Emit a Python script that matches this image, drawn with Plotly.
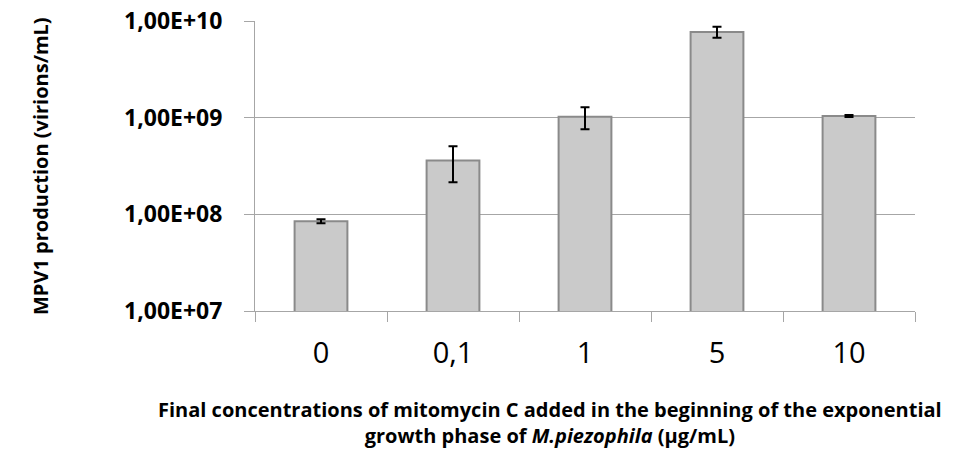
import plotly.graph_objects as go

categories = ["0", "0,1", "1", "5", "10"]
values = [8.5e7, 3.6e8, 1.02e9, 7.7e9, 1.04e9]
errors = [4e6, 1.45e8, 2.6e8, 1.0e9, 2.5e7]
ytick_vals = [1e7, 1e8, 1e9, 1e10]
ytick_text = ["<b>1,00E+07</b>", "<b>1,00E+08</b>", "<b>1,00E+09</b>", "<b>1,00E+10</b>"]

fig = go.Figure()
fig.add_trace(go.Bar(
    x=categories, y=values,
    width=0.4,
    marker=dict(color="#cacaca", line=dict(color="#8a8a8a", width=2)),
    error_y=dict(type="data", array=errors, visible=True, color="black",
                 thickness=2, width=4.5),
))

fig.update_layout(
    width=957, height=456,
    margin=dict(l=255, r=42, t=21, b=145, autoexpand=False),
    paper_bgcolor="white", plot_bgcolor="white",
    showlegend=False,
    font=dict(family="Open Sans, Liberation Sans, sans-serif", color="black"),
)
fig.update_yaxes(
    type="log", range=[7, 10],
    tickvals=ytick_vals, ticktext=ytick_text,
    tickfont=dict(size=23, family="Open Sans", color="black"),
    showgrid=True, gridcolor="#a6a6a6", gridwidth=1,
    showline=True, linecolor="#a6a6a6", linewidth=1,
    ticks="outside", ticklen=10, tickcolor="#a6a6a6",
    ticklabelstandoff=17,
    zeroline=False, automargin=False,
)
fig.update_xaxes(
    tickfont=dict(size=29, family="Open Sans", color="black"),
    showline=True, linecolor="#a6a6a6", linewidth=1,
    ticks="outside", ticklen=10, tickcolor="#a6a6a6",
    tickson="boundaries",
    ticklabelstandoff=16,
    mirror=False, automargin=False,
)
# y title
fig.add_annotation(
    text="<b>MPV1 production (virions/mL)</b>",
    xref="paper", yref="paper", x=(40 - 255) / 660, y=0.5,
    xanchor="center", yanchor="middle", textangle=-90, showarrow=False,
    font=dict(size=20, family="Open Sans", color="black"),
)
# x title
fig.add_annotation(
    text="<b>Final concentrations of mitomycin C added in the beginning of the exponential</b><br><b>growth phase of <i>M.piezophila</i> (µg/mL)</b>",
    xref="paper", yref="paper", x=(550 - 255) / 660, y=-0.285,
    xanchor="center", yanchor="top", showarrow=False,
    font=dict(size=20, family="Open Sans", color="black"),
)
fig.write_html("out.html")
